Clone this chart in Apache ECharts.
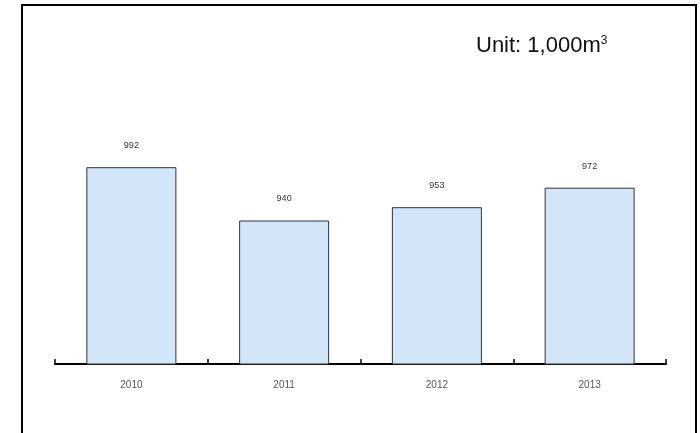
<!DOCTYPE html>
<html>
<head>
<meta charset="utf-8">
<script src="https://cdn.jsdelivr.net/npm/echarts@6/dist/echarts.min.js"></script>
<style>html,body{margin:0;padding:0;background:#fff}#c{width:700px;height:433px}</style>
</head>
<body>
<div id="c"></div>
<script>
var categories = ['2010', '2011', '2012', '2013'];
var values = [992, 940, 953, 972];
var unitText = 'Unit: 1,000m';

var chart = echarts.init(document.getElementById('c'));
chart.setOption({
  animation: false,
  backgroundColor: '#ffffff',
  grid: {left: 55, right: 34, top: 159, bottom: 69},
  xAxis: {
    type: 'category',
    data: categories,
    axisLine: {lineStyle: {color: '#000', width: 2}},
    axisTick: {show: true, inside: true, length: 5, lineStyle: {color: '#000', width: 1.5}},
    axisLabel: {color: '#555', fontSize: 10, fontFamily: 'Liberation Sans, Arial', margin: 16}
  },
  yAxis: {
    type: 'value', min: 800, max: 1000, show: false,
    splitLine: {show: false}
  },
  series: [{
    type: 'bar',
    data: values,
    barWidth: 90,
    itemStyle: {color: '#d3e6f9', borderColor: '#333', borderWidth: 1},
    label: {show: true, position: 'top', distance: 17, color: '#333', fontSize: 9, fontFamily: 'Liberation Sans, Arial'}
  }],
  graphic: [
    {type: 'rect', shape: {x: 22, y: 5, width: 674, height: 450},
     style: {fill: 'none', stroke: '#000', lineWidth: 2}, z: 10},
    {type: 'text', left: 476, top: 35,
     style: {text: '{a|' + unitText + '}{s|3}', rich: {
       a: {fontSize: 22, fontFamily: 'Liberation Sans', fill: '#111', fontWeight: 'normal'},
       s: {fontSize: 12, fontFamily: 'Liberation Sans', fill: '#111', verticalAlign: 'top', padding: [0,0,10,0]}
     }}}
  ]
});
</script>
</body>
</html>
